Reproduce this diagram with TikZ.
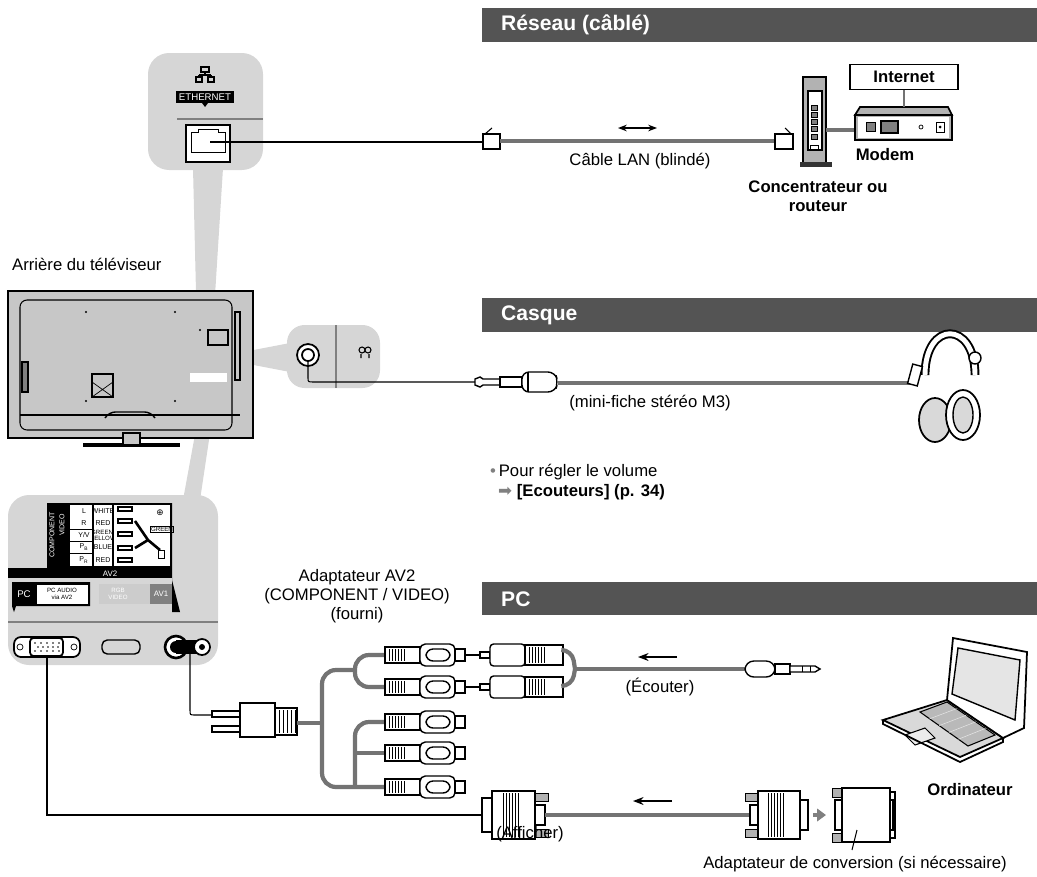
\documentclass[tikz,border=0pt]{standalone}
\usepackage{fontspec}
\setmainfont{Liberation Sans}
\newfontfamily\symf{DejaVu Sans}
\usetikzlibrary{arrows.meta,calc}
\definecolor{hdr}{gray}{0.33}
\definecolor{pan}{gray}{0.84}
\definecolor{tvg}{gray}{0.78}
\definecolor{cab}{gray}{0.45}
\begin{document}
\begin{tikzpicture}[x=0.02cm,y=-0.02cm,
  htxt/.style={text=white,font=\fontsize{12}{14}\selectfont\bfseries,anchor=west},
  txt/.style={font=\fontsize{9.5}{11}\selectfont,align=center},
  btxt/.style={font=\fontsize{9.5}{11}\selectfont\bfseries,align=center},
  plug/.style={draw,fill=white,line width=0.8pt},
  cable/.style={line width=2.4pt,draw=cab},
  wire/.style={line width=0.6pt}]
\useasboundingbox (0,0) rectangle (1037,876);
% headers
\fill[hdr] (482,8) rectangle (1037,42);
\node[htxt] (h1) at (495,25) {Réseau (câblé)};
\fill[hdr] (482,298) rectangle (1037,332);
\node[htxt] (h2) at (495,315) {Casque};
\fill[hdr] (482,582) rectangle (1037,615);
\node[htxt] (h3) at (495,599) {PC};
% projection wedges
\fill[pan] (193,168) -- (223,168) -- (210,375) -- (198,375) -- cycle;
\fill[pan] (238,353) -- (290,343) -- (290,372) -- (238,362) -- cycle;
\fill[pan] (205,380) -- (218,380) -- (200,500) -- (183,500) -- cycle;
% ethernet panel
\fill[pan,rounded corners=12pt] (148,53) rectangle (263,170);
\draw[gray,line width=0.6pt] (177,119) -- (263,119);
\node[font=\fontsize{5.5}{6}\selectfont,fill=black,text=white,inner sep=1.5pt] (eth) at (205,97) {ETHERNET};
\fill (202,103) -- (208,103) -- (205,107) -- cycle;
\begin{scope}[line width=0.6pt]
\draw (201,67) rectangle (209,72); \draw (205,72) -- (205,75) (199,75) -- (211,75) (199,75) -- (199,77) (211,75) -- (211,77);
\draw (196,77) rectangle (202,82); \draw (208,77) rectangle (214,82);
\end{scope}
\draw[line width=0.8pt,fill=white] (186,125) rectangle (230,162);
\draw[line width=0.5pt] (191,132) -- (198,132) -- (198,129) -- (218,129) -- (218,132) -- (225,132) -- (225,152) -- (191,152) -- cycle;
\coordinate (ethp) at (210,142);
% LAN cable
\draw[wire] (ethp) -- (483,142);
\draw[plug] (483,134) rectangle (500,149); \draw[wire] (485,134) -- (492,128);
\draw[cable] (500,141) -- (775,141);
\draw[plug] (775,134) rectangle (793,149); \draw[wire] (791,134) -- (785,128);
\draw[{Stealth[length=5pt]}-{Stealth[length=5pt]},line width=1.2pt] (618,128) -- (657,128);
\node[txt] (lan) at (640,161) {Câble LAN (blindé)};
% hub
\draw[line width=1pt,fill=gray!60] (803,77) rectangle (826,163);
\draw[line width=0.6pt,fill=white] (808,91) rectangle (822,150);
\foreach \yy in {105,112,119,126,134} \draw[fill=gray] (811,\yy) rectangle (817,\yy+5);
\draw (810,145) rectangle (818,150);
\fill[black!80] (800,162) rectangle (832,167);
\draw[cab,line width=2.2pt] (826,130) -- (855,130);
\node[btxt] (hub) at (818,196) {Concentrateur ou\\routeur};
% modem
\draw[line width=1pt,fill=gray!60] (860,107) -- (948,107) -- (952,115) -- (855,115) -- cycle;
\draw[line width=1pt,fill=gray!60] (855,115) rectangle (952,140);
\fill[white] (858,117) rectangle (949,138);
\draw[fill=gray] (866,122) rectangle (875,131);
\draw[line width=1pt,fill=gray] (881,121) rectangle (898,133);
\draw (921,127) circle (2);
\draw (936,122) rectangle (944,132); \fill (940,127) circle (1.5);
\node[draw,line width=1pt,fill=white,btxt,minimum width=2.16cm,minimum height=0.5cm,inner sep=0] (inet) at (904,77) {Internet};
\draw[cab,line width=1.5pt] (inet.south) -- (904,107);
\node[btxt] (modem) at (885,155) {Modem};
% TV
\node[txt,anchor=west] (tvlbl) at (6,264) {Arrière du téléviseur};
\draw[line width=1.4pt,fill=tvg] (8,291) rectangle (253,438);
\draw[line width=0.6pt,rounded corners=4pt] (20,300) rectangle (232,430);
\draw[line width=0.6pt] (20,415) -- (240,415);
\draw[line width=0.6pt] (235,312) rectangle (240,380);
\draw[line width=0.8pt,fill=gray] (22,362) rectangle (28,392);
\draw[line width=0.8pt] (208,330) rectangle (228,345);
\draw[line width=0.8pt] (92,374) rectangle (113,397); \draw (92,382) -- (113,397) (113,382) -- (92,397);
\draw[line width=0.8pt,rounded corners=3pt] (105,418) -- (110,412) -- (150,412) -- (155,418);
\fill[white] (190,373) rectangle (227,382);
\foreach \p in {(86,312),(175,312),(200,330),(86,401),(175,401)} \fill \p circle (1.2);
\fill (83,443) rectangle (180,447);
\draw[line width=0.8pt,fill=tvg] (123,433) rectangle (140,445);
% headphone panel
\fill[pan,rounded corners=10pt] (287,325) rectangle (380,388);
\draw[gray,line width=0.6pt] (336,325) -- (336,388);
\draw[line width=1pt,fill=white] (308,355) circle (11);
\draw[line width=1pt] (308,355) circle (6);
\draw[line width=0.6pt] (362,350) circle (3) (368,350) circle (3) (361,358) -- (361,354) (369,358) -- (369,354);
% headphone cable
\draw[wire] (308,361) -- (308,378) .. controls (308,382) .. (314,382) -- (475,382);
\draw[plug] (475,379) -- (480,377) -- (483,379) -- (500,379) -- (500,385) -- (483,385) -- (480,387) -- (475,385) -- cycle;
\draw[plug] (500,377) rectangle (522,387);
\draw[plug,rounded corners=4pt] (522,372) -- (555,372) -- (558,382) -- (555,392) -- (522,392) -- cycle;
\draw[wire] (528,372) -- (528,392);
\draw[cab,line width=2.4pt] (558,383) -- (910,383);
\node[txt] (mini) at (650,403) {(mini-fiche stéréo M3)};
% headphones
\draw[line width=5pt] (925,375) .. controls (925,320) and (975,320) .. (975,375);
\draw[white,line width=2.8pt] (925,375) .. controls (925,320) and (975,320) .. (975,375);
\draw[line width=0.8pt,fill=white,rotate around={-15:(915,375)}] (910,365) rectangle (920,385);
\draw[line width=0.8pt,fill=white] (975,358) circle (6);
\draw[line width=1pt,fill=gray!30] (935,420) ellipse (16 and 22);
\draw[line width=1pt,fill=white] (963,415) ellipse (17 and 25);
\draw[line width=0.8pt,fill=gray!30] (963,415) ellipse (10 and 18);
% volume note
\node[txt,anchor=west] (vol) at (484,472) {{\color{gray}\textbullet}\,Pour régler le volume};
\node[btxt,anchor=west] (ecou) at (492,492) {{\color{gray}\symf\mdseries ➡} [Ecouteurs] (p. 34)};
% AV panel
\fill[pan,rounded corners=12pt] (8,495) rectangle (218,665);
\draw[gray,line width=0.6pt] (8,622) -- (218,622);
\fill (47,503) rectangle (172,570);
\fill (8,568) rectangle (172,578);
\fill (172,503) -- (172,580) -- (180,612) -- (172,612) -- cycle;
\fill[white] (94,505) rectangle (112,566);
\foreach \yy/\lb in {505/WHITE,517/RED,541/BLUE,554/RED}
  \node[font=\fontsize{4}{4}\selectfont,inner sep=0] at (103,\yy+6) {\lb};
\node[font=\fontsize{3.5}{3.5}\selectfont,inner sep=0,align=center] at (103,535) {GREEN/\\YELLOW};
\fill[white] (70,505) rectangle (92,566);
\foreach \yy/\lb in {505/L,517/R,541/P\textsubscript{B},554/P\textsubscript{R}}
  \node[font=\fontsize{4}{4}\selectfont,inner sep=0] at (84,\yy+6) {\lb};
\node[font=\fontsize{4}{4}\selectfont,inner sep=0] at (84,535) {Y/V};
\draw (70,529) -- (92,529) (70,541) -- (92,541) (70,553) -- (92,553);
\fill[white] (114,505) rectangle (170,566);
\foreach \yy in {509,521,534,548,560} \draw[line width=0.6pt] (118,\yy-2) rectangle (132,\yy+2);
\draw[line width=1.5pt] (135,521) -- (148,540) (135,548) -- (148,540) -- (160,550);
\draw[fill=white] (158,550) rectangle (164,558);
\node[font=\symf\fontsize{5}{5}\selectfont] at (160,513) {⊕};
\node[draw,font=\fontsize{3.5}{4}\selectfont,inner sep=0.5pt] at (162,529) {GREEN};
\node[text=white,font=\fontsize{4}{4}\selectfont,rotate=90] at (52,535) {COMPONENT};
\node[text=white,font=\fontsize{4}{4}\selectfont,rotate=90] at (62,525) {VIDEO};
\node[text=white,font=\fontsize{4.5}{4}\selectfont] (av2) at (110,574) {AV2};
\fill (12,582) -- (90,582) -- (90,606) -- (16,606) -- (14,612) -- (12,606) -- cycle;
\node[text=white,font=\fontsize{5.5}{5}\selectfont] at (24,594) {PC};
\fill[white] (37,585) rectangle (88,604);
\node[font=\fontsize{3.5}{4}\selectfont,align=center] at (62,594) {PC AUDIO\\via AV2};
\fill[gray!40] (99,584) rectangle (150,604);
\node[text=white,font=\fontsize{3.5}{4}\selectfont,align=center] at (118,594) {RGB\\VIDEO};
\fill[gray] (150,584) rectangle (172,604);
\node[text=white,font=\fontsize{4.5}{4}\selectfont] at (161,594) {AV1};
% ports
\draw[line width=1pt,fill=white,rounded corners=4pt] (14,637) rectangle (80,657);
\draw[line width=1pt,fill=white,rounded corners=2pt] (30,638) rectangle (63,656);
\foreach \k in {0,...,4} \fill (35+\k*6,643) circle (0.8) (38+\k*5,647) circle (0.8) (35+\k*6,651) circle (0.8);
\draw (20,647) circle (3); \draw (74,647) circle (3);
\draw[line width=0.8pt,rounded corners=3pt] (102,640) rectangle (140,654);
\draw[line width=1.5pt,fill=white] (176,647) circle (11);
\fill (176,647) circle (6);
\fill (176,640) rectangle (200,654);
\draw[line width=1pt,fill=white] (202,647) circle (8);
\fill (202,647) circle (3);
\coordinate (vgap) at (47,656);
% VGA line
\draw[wire] (vgap) -- (47,815) -- (482,815);
% AV adapter plug
\draw[wire] (190,653) -- (190,710) .. controls (190,715) .. (195,715) -- (212,715);
\draw[plug] (212,711) rectangle (240,717);
\draw[plug] (212,726) rectangle (240,732);
\draw[plug] (240,703) rectangle (275,737);
\draw[plug] (275,708) rectangle (297,735);
\foreach \k in {0,...,4} \draw (279+\k*4,710) -- (279+\k*4,733);
\draw[cable] (297,723) -- (322,723);
\draw[cable,rounded corners=8pt] (322,723) |- (355,670) (322,723) |- (385,787);
\draw[cable,rounded corners=8pt] (355,670) |- (385,655) (355,670) |- (385,687);
\draw[cable,rounded corners=8pt] (355,787) |- (385,722);
\draw[cable] (355,753) -- (385,753);
\foreach \yy in {655,687,722,753,787} {
  \draw[plug] (385,\yy-8) rectangle (420,\yy+8);
  \foreach \k in {0,...,5} \draw (389+\k*3,\yy-6) -- (389+\k*3,\yy+6);
  \draw[plug,rounded corners=3pt] (420,\yy-11) rectangle (455,\yy+11);
  \draw[line width=0.8pt,rounded corners=4pt] (426,\yy-6) rectangle (450,\yy+6);
  \draw[plug] (455,\yy-6) rectangle (465,\yy+6);
}
\foreach \yy in {655,687} {
  \draw[wire] (465,\yy) -- (480,\yy);
  \draw[plug] (480,\yy-3) rectangle (490,\yy+3);
  \draw[plug,rounded corners=2pt] (490,\yy-11) rectangle (525,\yy+11);
  \draw[plug] (525,\yy-10) rectangle (563,\yy+10);
  \foreach \k in {0,...,5} \draw (529+\k*3,\yy-8) -- (529+\k*3,\yy+8);
}
\draw[cable,rounded corners=6pt] (563,650) -- (572,650) -- (575,669) (563,686) -- (572,686) -- (575,669);
\draw[cable] (575,669) -- (745,669);
\draw[-{Stealth[length=6pt]},line width=1.4pt] (677,657) -- (638,657);
\node[txt] (ecout) at (660,687) {(Écouter)};
\draw[plug,rounded corners=5pt] (745,661) -- (775,661) -- (775,677) -- (745,677) -- cycle;
\draw[plug] (775,664) rectangle (790,674);
\draw[plug] (790,666) -- (815,666) -- (820,669) -- (815,672) -- (790,672) -- cycle;
\draw (802,666) -- (802,672) (810,666) -- (810,672);
% VGA cable
\draw[plug] (482,798) rectangle (492,832);
\draw[plug] (492,791) rectangle (535,839);
\foreach \k in {0,...,5} \draw (503+\k*3,793) -- (503+\k*3,837);
\draw[fill=gray!60] (535,793) rectangle (548,801); \draw[fill=gray!60] (535,829) rectangle (548,837);
\draw[plug] (535,805) rectangle (545,825);
\draw[cable] (545,815) -- (750,815);
\draw[-{Stealth[length=6pt]},line width=1.4pt] (672,801) -- (633,801);
\node[txt] (aff) at (530,834) {(Afficher)};
\draw[fill=gray!60] (745,793) rectangle (758,801); \draw[fill=gray!60] (745,829) rectangle (758,837);
\draw[plug] (750,805) rectangle (760,825);
\draw[plug] (758,791) rectangle (800,839);
\foreach \k in {0,...,5} \draw (768+\k*3,793) -- (768+\k*3,837);
\draw[plug] (800,800) rectangle (808,830);
\draw[-{Triangle[length=5pt,width=7pt]},gray,line width=2.5pt] (813,815) -- (826,815);
\draw[fill=gray!60] (832,788) rectangle (842,797); \draw[fill=gray!60] (832,833) rectangle (842,842);
\draw[plug] (835,800) rectangle (845,830);
\draw[plug] (842,788) rectangle (890,842);
\draw[plug] (890,792) rectangle (895,838);
\draw[plug] (890,800) rectangle (893,830);
\draw[wire] (857,830) -- (852,850);
\node[txt] (conv) at (855,864) {Adaptateur de conversion (si nécessaire)};
% adapter label
\node[txt] (adap) at (357,596) {Adaptateur AV2\\(COMPONENT / VIDEO)\\(fourni)};
% laptop
\draw[line width=1pt,fill=gray!30] (883,720) -- (947,700) -- (1003,738) -- (960,757) -- cycle;
\draw[line width=0.6pt,fill=gray!55] (920,712) -- (947,702) -- (995,735) -- (968,746) -- cycle;
\foreach \t in {0.2,0.4,0.6,0.8} \draw[gray!20,line width=0.3pt] ($(920,712)!\t!(968,746)$) -- ($(947,702)!\t!(995,735)$);
\draw[line width=0.6pt,fill=gray!15] (905,735) -- (925,728) -- (935,738) -- (915,745) -- cycle;
\draw[line width=1pt,fill=white] (953,638) -- (1027,652) -- (1024,728) -- (1003,738) -- (947,700) -- cycle;
\draw[line width=0.8pt,fill=gray!20] (958,648) -- (1020,660) -- (1015,720) -- (952,694) -- cycle;
\draw[line width=1pt] (883,720) -- (883,724) -- (960,762) -- (1003,742) -- (1003,738);
\node[btxt] (pc) at (970,790) {Ordinateur};
\end{tikzpicture}
\end{document}
